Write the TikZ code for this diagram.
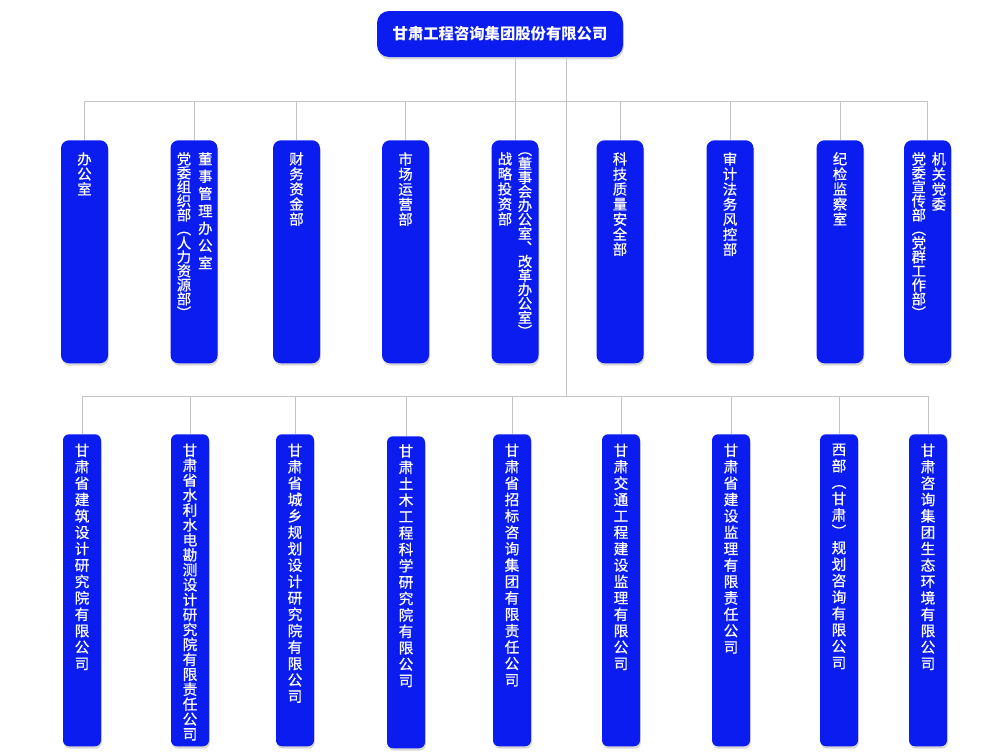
\documentclass[tikz,border=0pt]{standalone}
\usepackage{fontspec}
\newfontfamily\cjk{Noto Sans CJK SC}
\newfontfamily\cjkm[FakeBold=0.6]{Noto Sans CJK SC}
\usetikzlibrary{positioning,shadows}
\definecolor{orgblue}{RGB}{10,28,240}
\definecolor{linegray}{RGB}{196,196,196}

\begin{document}
\begin{tikzpicture}[x=0.75pt,y=-0.75pt,
	box/.style={fill=orgblue, draw=none, inner sep=0pt, drop shadow={shadow xshift=0.6pt, shadow yshift=-1.8pt, opacity=0.3}},
	headbox/.style={box, rounded corners=9pt, minimum width=184.5pt, minimum height=34.5pt, text=white, font=\cjk\bfseries\fontsize{11.5}{13}\selectfont},
	dept/.style={box, rounded corners=6pt, minimum width=35.25pt, minimum height=167.25pt, anchor=north},
	comp/.style={box, rounded corners=4.5pt, minimum width=28.5pt, minimum height=234pt, anchor=north},
	vtxt/.style={text=white, align=center, inner sep=0pt, anchor=north, font=\cjkm\fontsize{10.8}{11.3}\selectfont},
	vtight/.style={vtxt, font=\cjkm\fontsize{10.8}{10.5}\selectfont},
	vwide/.style={vtxt, font=\cjkm\fontsize{10.8}{13}\selectfont},
	ctxt/.style={vtxt, font=\cjkm\fontsize{11}{12.3}\selectfont},
	link/.style={draw=linegray, line width=0.75pt}]
	\useasboundingbox[fill=white] (0,0) rectangle (1000,754);

	% head
	\node[headbox] (top) at (500,34) {甘肃工程咨询集团股份有限公司};

	% departments
	\node[dept] (r1) at (84.5,140) {};
	\node[dept] (r2) at (194,140) {};
	\node[dept] (r3) at (296.5,140) {};
	\node[dept] (r4) at (405.5,140) {};
	\node[dept] (r5) at (515,140) {};
	\node[dept] (r6) at (620,140) {};
	\node[dept] (r7) at (730,140) {};
	\node[dept] (r8) at (840,140) {};
	\node[dept] (r9) at (927.5,140) {};

	\node[vtxt, below=9pt of r1.north] (t1) {办\\公\\室};
	\node[vwide, below=9pt of r2.north, xshift=8.5pt] (t2a) {董\\事\\管\\理\\办\\公\\室};
	\node[vtight, below=9pt of r2.north, xshift=-7.5pt] (t2b) {党\\委\\组\\织\\部\\︵\\人\\力\\资\\源\\部\\︶};
	\node[vtxt, below=9pt of r3.north] (t3) {财\\务\\资\\金\\部};
	\node[vtxt, below=9pt of r4.north] (t4) {市\\场\\运\\营\\部};
	\node[vtight, below=9pt of r5.north, xshift=7.5pt] (t5a) {︵\\董\\事\\会\\办\\公\\室\\︑\\改\\革\\办\\公\\室\\︶};
	\node[vtxt, below=9pt of r5.north, xshift=-7.5pt] (t5b) {战\\略\\投\\资\\部};
	\node[vtxt, below=9pt of r6.north] (t6) {科\\技\\质\\量\\安\\全\\部};
	\node[vtxt, below=9pt of r7.north] (t7) {审\\计\\法\\务\\风\\控\\部};
	\node[vtxt, below=9pt of r8.north] (t8) {纪\\检\\监\\察\\室};
	\node[vtxt, below=9pt of r9.north, xshift=8.5pt] (t9a) {机\\关\\党\\委};
	\node[vtight, below=9pt of r9.north, xshift=-6.5pt] (t9b) {党\\委\\宣\\传\\部\\︵\\党\\群\\工\\作\\部\\︶};

	% companies
	\node[comp] (c1) at (82,434) {};
	\node[comp] (c2) at (190,434) {};
	\node[comp] (c3) at (295,434) {};
	\node[comp] (c4) at (406,436) {};
	\node[comp] (c5) at (512,434) {};
	\node[comp] (c6) at (621,434) {};
	\node[comp] (c7) at (731,434) {};
	\node[comp] (c8) at (839,434) {};
	\node[comp] (c9) at (928,434) {};

	\node[ctxt, below=7pt of c1.north] (s1) {甘\\肃\\省\\建\\筑\\设\\计\\研\\究\\院\\有\\限\\公\\司};
	\node[ctxt, below=7pt of c2.north, font=\cjkm\fontsize{11}{11.2}\selectfont] (s2) {甘\\肃\\省\\水\\利\\水\\电\\勘\\测\\设\\计\\研\\究\\院\\有\\限\\责\\任\\公\\司};
	\node[ctxt, below=7pt of c3.north] (s3) {甘\\肃\\省\\城\\乡\\规\\划\\设\\计\\研\\究\\院\\有\\限\\公\\司};
	\node[ctxt, below=6pt of c4.north] (s4) {甘\\肃\\土\\木\\工\\程\\科\\学\\研\\究\\院\\有\\限\\公\\司};
	\node[ctxt, below=7pt of c5.north] (s5) {甘\\肃\\省\\招\\标\\咨\\询\\集\\团\\有\\限\\责\\任\\公\\司};
	\node[ctxt, below=7pt of c6.north] (s6) {甘\\肃\\交\\通\\工\\程\\建\\设\\监\\理\\有\\限\\公\\司};
	\node[ctxt, below=7pt of c7.north] (s7) {甘\\肃\\省\\建\\设\\监\\理\\有\\限\\责\\任\\公\\司};
	\node[ctxt, below=7pt of c8.north] (s8) {西\\部\\︵\\甘\\肃\\︶\\规\\划\\咨\\询\\有\\限\\公\\司};
	\node[ctxt, below=7pt of c9.north] (s9) {甘\\肃\\咨\\询\\集\\团\\生\\态\\环\\境\\有\\限\\公\\司};

	% lines
	\coordinate (bus1) at (0,101);
	\coordinate (bus2) at (0,396);
	\coordinate (trunk) at (566,57);
	\draw[link] (r1.north |- bus1) -- (r9.north |- bus1);
	\draw[link] (top.south -| r5.north) -- (r5.north);
	\draw[link] (trunk) -- (trunk |- bus2);
	\draw[link] (r1.north) -- (r1.north |- bus1);
	\draw[link] (r2.north) -- (r2.north |- bus1);
	\draw[link] (r3.north) -- (r3.north |- bus1);
	\draw[link] (r4.north) -- (r4.north |- bus1);
	\draw[link] (r6.north) -- (r6.north |- bus1);
	\draw[link] (r7.north) -- (r7.north |- bus1);
	\draw[link] (r8.north) -- (r8.north |- bus1);
	\draw[link] (r9.north) -- (r9.north |- bus1);
	\draw[link] (c1.north |- bus2) -- (c9.north |- bus2);
	\draw[link] (c1.north) -- (c1.north |- bus2);
	\draw[link] (c2.north) -- (c2.north |- bus2);
	\draw[link] (c3.north) -- (c3.north |- bus2);
	\draw[link] (c4.north) -- (c4.north |- bus2);
	\draw[link] (c5.north) -- (c5.north |- bus2);
	\draw[link] (c6.north) -- (c6.north |- bus2);
	\draw[link] (c7.north) -- (c7.north |- bus2);
	\draw[link] (c8.north) -- (c8.north |- bus2);
	\draw[link] (c9.north) -- (c9.north |- bus2);
\end{tikzpicture}
\end{document}
